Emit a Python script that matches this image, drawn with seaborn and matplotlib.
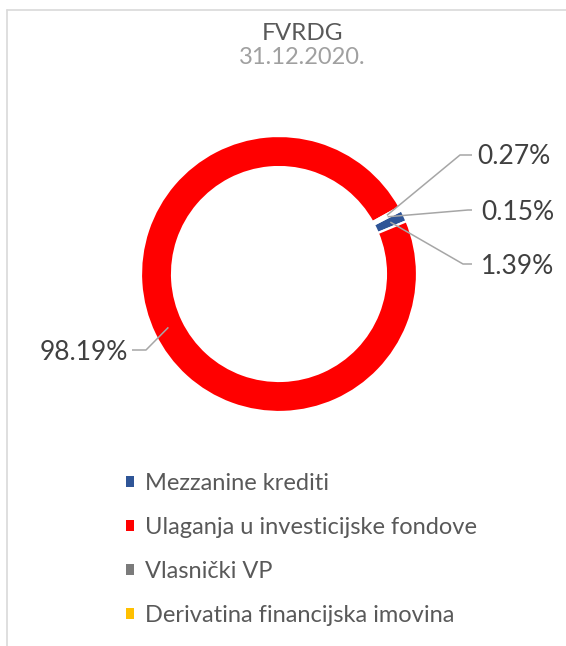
import numpy as np
import matplotlib
matplotlib.use("Agg")
import matplotlib.pyplot as plt
from matplotlib.lines import Line2D
import seaborn as sns

# ---- data ----
categories = ["Mezzanine krediti", "Ulaganja u investicijske fondove",
              "Vlasnički VP", "Derivatina financijska imovina"]
values = [1.39, 98.19, 0.27, 0.15]
value_labels = ["1.39%", "98.19%", "0.27%", "0.15%"]
colors = ["#2F5597", "#FF0000", "#7B7B7B", "#FFC000"]
title = "FVRDG"
subtitle = "31.12.2020."

sns.set_theme(style="white")
plt.rcParams["font.family"] = ["Lato", "DejaVu Sans"]

W, H = 566, 646
fig = plt.figure(figsize=(W / 100, H / 100), dpi=100)
fig.patch.set_facecolor("white")

# layout (pixels)
cx, cy, R = 279, 274, 138
ax = fig.add_axes([(cx - R) / W, (H - cy - R) / H, 2 * R / W, 2 * R / H])

wedges, _ = ax.pie(values, colors=colors, startangle=27.5, counterclock=False,
                   radius=1.0,
                   wedgeprops=dict(width=0.225, edgecolor="white", linewidth=1.6))
ax.set_xlim(-1, 1)
ax.set_ylim(-1, 1)
ax.set_aspect("auto")
ax.axis("off")


def px2data(px, py):
    return (px - cx) / R, (cy - py) / R


# label layout: (elbow px, end px, text px, ha)
label_layout = {
    2: ((460, 155), (472, 155), (477, 157), "left"),
    3: ((468, 210), (472, 210), (481, 212), "left"),
    0: ((463, 264), (472, 264), (481, 266), "left"),
    1: ((146, 350), (132, 350), (128, 352), "right"),
}
line_col = "#A6A6A6"
for i, w in enumerate(wedges):
    (ex, ey), (fx, fy), (tx, ty), ha = label_layout[i]
    mid = np.deg2rad((w.theta1 + w.theta2) / 2)
    r0 = 0.89
    x0, y0 = r0 * np.cos(mid), r0 * np.sin(mid)
    x1, y1 = px2data(ex, ey)
    x2, y2 = px2data(fx, fy)
    ax.plot([x0, x1, x2], [y0, y1, y2], color=line_col, lw=1.1,
            clip_on=False, solid_capstyle="butt")
    xt, yt = px2data(tx, ty)
    ax.text(xt, yt, value_labels[i], ha=ha, va="center", fontsize=19,
            color="#404040", clip_on=False)

# titles
fig.text(302 / W, 1 - 33 / H, title, ha="center", va="center",
         fontsize=17.5, color="#595959")
fig.text(302 / W, 1 - 58 / H, subtitle, ha="center", va="center",
         fontsize=17, color="#A0A0A0")

# legend
handles = [plt.Rectangle((0, 0), 1, 1, facecolor=c, edgecolor="none") for c in colors]
leg = fig.legend(handles, categories, loc="upper left",
                 bbox_to_anchor=(126 / W, 1 - 473 / H), frameon=False,
                 fontsize=17, handlelength=0.34, handleheight=0.34,
                 handletextpad=0.48, labelspacing=0.98, borderpad=0,
                 borderaxespad=0)
for t in leg.get_texts():
    t.set_color("#595959")

# chart-area border (left and top edges visible)
fig.add_artist(Line2D([7 / W, 7 / W], [0, 1 - 10 / H], transform=fig.transFigure,
                      color="#D9D9D9", lw=1.2))
fig.add_artist(Line2D([7 / W, 1], [1 - 10 / H, 1 - 10 / H], transform=fig.transFigure,
                      color="#D9D9D9", lw=1.2))

fig.savefig("out.png", dpi=100, facecolor="white")
